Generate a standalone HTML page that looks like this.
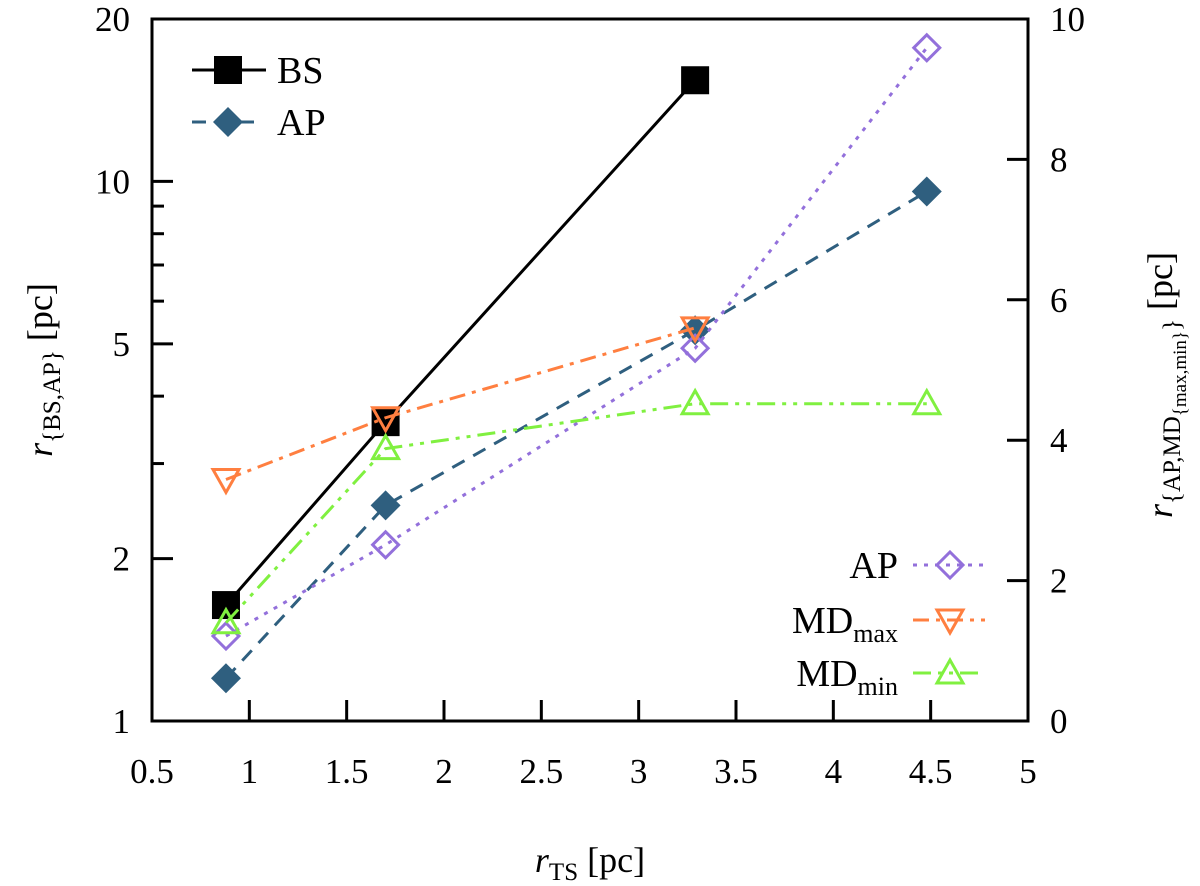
<!DOCTYPE html>
<html><head><meta charset="utf-8"><style>
body{margin:0;background:#fff}
svg{display:block;font-family:"Liberation Serif",serif}
</style></head><body>
<svg id="chart" width="1200" height="886" viewBox="0 0 1200 886" xmlns="http://www.w3.org/2000/svg">
<g id="axes"></g><g id="series"></g><g id="legend"></g>
</svg>
<script>
const xVals=[0.88,1.7,3.29,4.48];
const bsVals=[1.64,3.58,15.4];
const apLeftVals=[1.2,2.51,5.3,9.58];
const apRightVals=[1.21,2.51,5.31,9.59];
const mdMaxVals=[3.44,4.32,5.6];
const mdMinVals=[1.4,3.88,4.52,4.52];
const xTicks=[0.5,1,1.5,2,2.5,3,3.5,4,4.5,5];
const xTickLabels=["0.5","1","1.5","2","2.5","3","3.5","4","4.5","5"];
const yLeftTicks=[1,2,5,10,20];
const yRightTicks=[0,2,4,6,8,10];

const L=152,R=1028,T=19,B=721;
const NS="http://www.w3.org/2000/svg";
const X=v=>L+(v-0.5)/4.5*(R-L);
const YL=v=>B-Math.log10(v)/Math.log10(20)*(B-T);
const YR=v=>B-v/10*(B-T);
function el(tag,attrs,parent,text){const e=document.createElementNS(NS,tag);for(const k in attrs)e.setAttribute(k,attrs[k]);if(text!==undefined)e.textContent=text;parent.appendChild(e);return e;}
const axes=document.getElementById('axes'),ser=document.getElementById('series'),leg=document.getElementById('legend');

let fr=el('rect',{x:L,y:T,width:R-L,height:B-T,fill:'none',stroke:'#000','stroke-width':3},axes);


xTicks.forEach((v,i)=>{const x=X(v);
 el('line',{x1:x,x2:x,y1:B,y2:B-21,stroke:'#000','stroke-width':3},axes);
 let t=el('text',{x:x,y:B+62,'font-size':35,'text-anchor':'middle'},axes,xTickLabels[i]);
 
 
});
[1,2,3,4,5,6,7,8,9,10,20].forEach(d=>{const y=YL(d);const maj=yLeftTicks.includes(d);
 el('line',{x1:L,x2:L+(maj?21:12),y1:y,y2:y,stroke:'#000','stroke-width':3},axes);});
yLeftTicks.forEach(v=>{let t=el('text',{x:L-22,y:YL(v)+12,'font-size':35,'text-anchor':'end'},axes,String(v));
 
 });
yRightTicks.forEach(v=>{const y=YR(v);
 el('line',{x1:R,x2:R-21,y1:y,y2:y,stroke:'#000','stroke-width':3},axes);
 let t=el('text',{x:R+22,y:y+12,'font-size':35},axes,String(v));
 
 });

let xt=el('text',{x:590,y:872,'font-size':36,'text-anchor':'middle'},axes);


xt.innerHTML='<tspan font-style="italic">r</tspan><tspan font-size="25" dy="8">TS</tspan><tspan dy="-8"> [pc]</tspan>';
let yl=el('text',{transform:'translate(52,370) rotate(-90)','font-size':36,'text-anchor':'middle'},axes);


yl.innerHTML='<tspan font-style="italic">r</tspan><tspan font-size="25" dy="8">{BS,AP}</tspan><tspan dy="-8"> [pc]</tspan>';
let yr=el('text',{transform:'translate(1172,385) rotate(-90)','font-size':36,'text-anchor':'middle'},axes);


yr.innerHTML='<tspan font-style="italic">r</tspan><tspan font-size="25" dy="8">{AP,MD</tspan><tspan font-size="19" dy="6">{max,min}</tspan><tspan font-size="25" dy="-6">}</tspan><tspan dy="-8"> [pc]</tspan>';

function marker(g,type,x,y,color){
 if(type==='sq') return el('rect',{x:x-14,y:y-14,width:28,height:28,fill:color},g);
 if(type==='dia') return el('polygon',{points:`${x},${y-15} ${x+15},${y} ${x},${y+15} ${x-15},${y}`,fill:color},g);
 if(type==='odia') return el('polygon',{points:`${x},${y-13} ${x+13},${y} ${x},${y+13} ${x-13},${y}`,fill:'none',stroke:color,'stroke-width':3},g);
 if(type==='dn') return el('polygon',{points:`${x-13},${y-10} ${x+13},${y-10} ${x},${y+13}`,fill:'none',stroke:color,'stroke-width':3},g);
 if(type==='up') return el('polygon',{points:`${x-13},${y+10} ${x+13},${y+10} ${x},${y-13}`,fill:'none',stroke:color,'stroke-width':3},g);
}
const specs=[
 {name:'series-bs',vals:bsVals,ys:YL,color:'#000',dash:'',m:'sq'},
 {name:'series-ap-left',vals:apLeftVals,ys:YL,color:'#2f5f7f',dash:'14,10',m:'dia'},
 {name:'series-ap-right',vals:apRightVals,ys:YR,color:'#9370db',dash:'4,7',m:'odia'},
 {name:'series-md-max',vals:mdMaxVals,ys:YR,color:'#ff7f40',dash:'16,7,4,7',m:'dn'},
 {name:'series-md-min',vals:mdMinVals,ys:YR,color:'#80f040',dash:'18,7,4,7,4,7',m:'up'}];
specs.forEach(s=>{const g=el('g',{},ser);
 
 
 const pts=s.vals.map((v,i)=>[X(xVals[i]),s.ys(v)]);
 const ln=el('polyline',{points:pts.map(p=>p.join(',')).join(' '),fill:'none',stroke:s.color,'stroke-width':3,'stroke-dasharray':s.dash},g);
 
 
 pts.forEach(p=>{const mk=marker(g,s.m,p[0],p[1],s.color);
  
  });
});
function legEntry(label,sub,spec,x1,x2,mx,y,tx,anchor){const g=el('g',{},leg);
 
 
 el('line',{x1:x1,x2:x2,y1:y,y2:y,stroke:spec.color,'stroke-width':3,'stroke-dasharray':spec.dash},g);
 marker(g,spec.m,mx,y,spec.color);
 const t=el('text',{x:tx,y:y+13,'font-size':38,'text-anchor':anchor},g);
 t.innerHTML=label+(sub?'<tspan font-size="26" dy="9">'+sub+'</tspan>':'');}
legEntry('BS','',specs[0],192,266,228,70,277,'start');
legEntry('AP','',specs[1],192,262,228,122,277,'start');
legEntry('AP','',specs[2],913,985,950,565,898,'end');
legEntry('MD','max',specs[3],913,985,950,620,898,'end');
legEntry('MD','min',specs[4],913,985,950,673,898,'end');
</script>
</body></html>
